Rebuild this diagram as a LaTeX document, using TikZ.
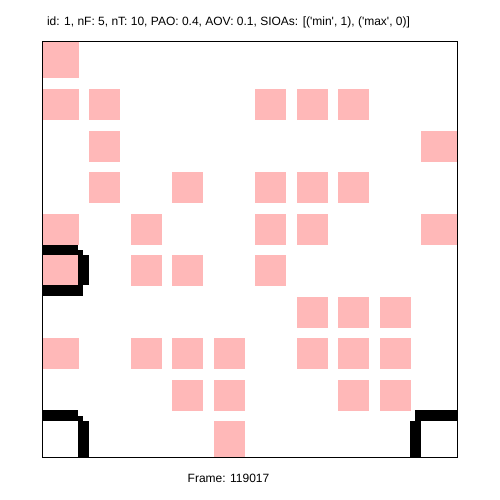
\documentclass[tikz,border=0pt]{standalone}
\usepackage{fontspec}
\setmainfont{Liberation Sans}
\definecolor{occupied}{RGB}{255,184,184}
\newcommand{\sq}{\textquotesingle}

\begin{document}
\begin{tikzpicture}[x=1pt,y=-1pt]
	\useasboundingbox (0,0) rectangle (500,500);

	% Grid frame
	\coordinate (gridtopleft) at (42,42);
	\coordinate (gridbottomright) at (457,457);

	% Occupied cells
	\begin{scope}
		\clip (gridtopleft) rectangle (gridbottomright);
		\foreach \c/\r in {0/0, 0/1,1/1,5/1,6/1,7/1, 1/2,9/2, 1/3,3/3,5/3,6/3,7/3,
			0/4,2/4,5/4,6/4,9/4, 0/5,2/5,3/5,5/5, 6/6,7/6,8/6,
			0/7,2/7,3/7,4/7,6/7,7/7,8/7, 3/8,4/8,7/8,8/8, 4/9} {
			\pgfmathsetmacro\xl{ifthenelse(\c==0,42,47.5+41.5*\c)}
			\pgfmathsetmacro\xr{ifthenelse(\c==9,457,78.5+41.5*\c)}
			\pgfmathsetmacro\yt{ifthenelse(\r==0,42,47.5+41.5*\r)}
			\pgfmathsetmacro\yb{ifthenelse(\r==9,457,78.5+41.5*\r)}
			\fill[occupied] (\xl,\yt) rectangle (\xr,\yb);
		}
	\end{scope}

	% Agents
	\begin{scope}
		% Agent at row 5
		\fill[black] (42,245) rectangle (78,250);
		\fill[black] (42,250) rectangle (83,255);
		\fill[black] (78,255) rectangle (89,285);
		\fill[black] (42,285) rectangle (83,296);

		% Agent bottom left
		\fill[black] (42,410) rectangle (78,416);
		\fill[black] (42,416) rectangle (83,421);
		\fill[black] (78,421) rectangle (89,457);

		% Agent bottom right
		\fill[black] (415,410) rectangle (457,421);
		\fill[black] (410,421) rectangle (421,457);
	\end{scope}

	\draw[line width=1pt] (gridtopleft) rectangle (gridbottomright);

	% Labels
	\node[font=\fontsize{12}{14}\selectfont, anchor=base] (title) at (228.5,25.5)
		{id: 1, nF: 5, nT: 10, PAO: 0.4, AOV: 0.1, SIOAs: [(\sq min\sq, 1), (\sq max\sq, 0)]};
	\node[font=\fontsize{12}{14}\selectfont, anchor=base] (framelabel) at (228.5,482)
		{Frame: 119017};
\end{tikzpicture}
\end{document}
